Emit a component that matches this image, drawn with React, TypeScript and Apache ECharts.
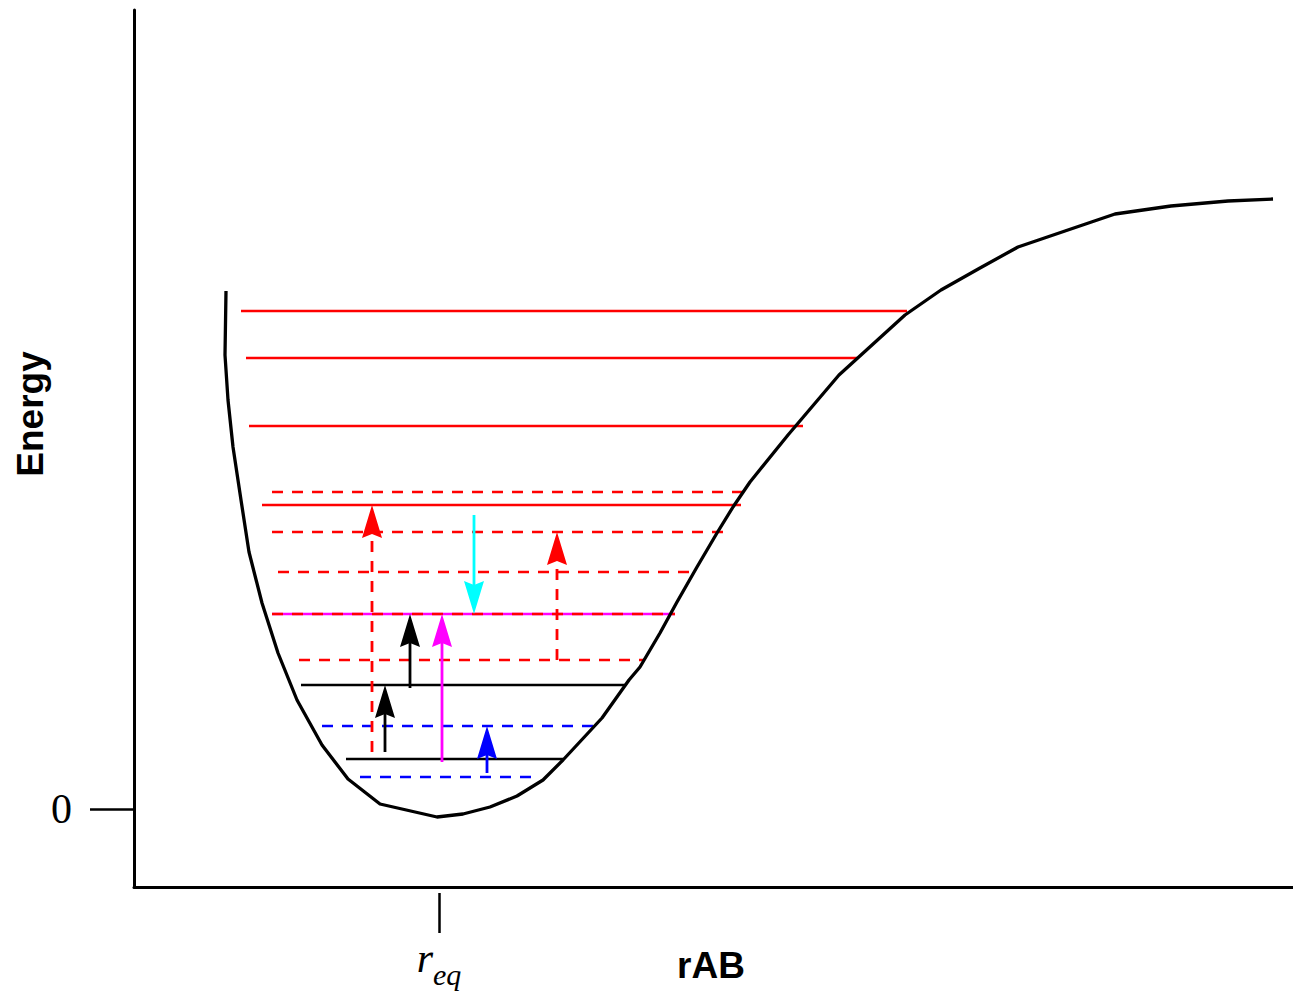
import React, { useEffect, useRef } from "react";
import * as echarts from "echarts";

// Potential-energy curve (r, E); E measured from the zero tick
const curveR = [226, 225, 228, 233, 241, 249, 262, 278, 297, 322, 348, 380, 437, 463, 490, 517, 543, 563, 602, 629, 640, 660, 677, 697, 717, 733, 750, 788, 839, 905, 941, 980, 1018, 1065, 1115, 1171, 1228, 1273];
const curveE = [518, 454, 409, 362, 309, 257, 206, 156, 109, 64, 30, 5, -8, -5, 2, 13, 29, 49, 91, 129, 142, 176, 207, 242, 276, 302, 327, 374, 434, 494, 519, 541, 562, 578, 595, 603, 608, 610];

// Vibrational levels
const levelE = [498, 451, 383, 317, 304, 277, 237, 195, 195, 149, 124, 83, 50, 32];
const levelStart = [241, 246, 249, 272, 262, 272, 278, 272, 272, 299, 301, 322, 346, 360];
const levelEnd = [907, 857, 803, 752, 741, 725, 690, 675, 675, 645, 625, 597, 563, 535];
const levelColor = ["#ff0000", "#ff0000", "#ff0000", "#ff0000", "#ff0000", "#ff0000", "#ff0000", "#ff00ff", "#ff0000", "#ff0000", "#000000", "#0000ff", "#000000", "#0000ff"];
const levelDashed = [false, false, false, true, false, true, true, false, true, true, false, true, false, true];

// Transitions (arrows)
const arrowR = [372, 474, 557, 410, 442, 385, 487];
const arrowFrom = [57, 294, 149, 121, 47, 57, 36];
const arrowTo = [304, 195, 277, 195, 195, 124, 83];
const arrowColor = ["#ff0000", "#00ffff", "#ff0000", "#000000", "#ff00ff", "#000000", "#0000ff"];
const arrowDashed = [true, false, true, false, false, false, false];

// Axis ticks
const yTickValues = [0];
const xTickValues = [439];

export default function App() {
  const ref = useRef<HTMLDivElement>(null);
  useEffect(() => {
    const chart = echarts.init(ref.current!, null, { renderer: "svg" });
    const dash = [11, 9];
    const levelSeries = levelE.map((e, i) => ({
      type: "line",
      silent: true,
      showSymbol: false,
      symbol: "none",
      data: [
        [levelStart[i], e],
        [levelEnd[i], e],
      ],
      lineStyle: {
        color: levelColor[i],
        width: 2.5,
        type: levelDashed[i] ? dash : "solid",
      },
      z: 2,
    }));

    const option: any = {
      animation: false,
      grid: { left: 134, right: 0, top: 10, bottom: 107, containLabel: false },
      xAxis: [
        {
          type: "value",
          min: 134,
          max: 1293,
          axisLine: { show: true, onZero: false, lineStyle: { color: "#000", width: 3 } },
          axisTick: { show: false },
          axisLabel: { show: false },
          splitLine: { show: false },
        },
        {
          type: "value",
          min: 134,
          max: 1293,
          position: "bottom",
          offset: 6,
          axisLine: { show: false, onZero: false },
          axisTick: {
            show: true,
            customValues: xTickValues,
            length: 40,
            lineStyle: { color: "#000", width: 2.5 },
          },
          axisLabel: {
            show: true,
            customValues: xTickValues,
            margin: 44,
            formatter: () => "{r|r}{s|eq}",
            rich: {
              r: { fontFamily: "Liberation Serif", fontStyle: "italic", fontSize: 42, color: "#000", verticalAlign: "bottom" },
              s: { fontFamily: "Liberation Serif", fontStyle: "italic", fontSize: 30, color: "#000", verticalAlign: "bottom", padding: [0, 0, -10, 0] },
            },
          },
          splitLine: { show: false },
        },
      ],
      yAxis: {
        type: "value",
        min: -78,
        max: 799,
        axisLine: { show: true, onZero: false, lineStyle: { color: "#000", width: 3 } },
        axisTick: {
          show: true,
          customValues: yTickValues,
          length: 44,
          lineStyle: { color: "#000", width: 2.5 },
        },
        axisLabel: {
          show: true,
          customValues: yTickValues,
          margin: 62,
          fontFamily: "Liberation Serif",
          fontSize: 42,
          color: "#000",
        },
        splitLine: { show: false },
      },
      graphic: [
        {
          type: "text",
          x: 30,
          y: 414,
          rotation: Math.PI / 2,
          style: {
            text: "Energy",
            fontFamily: "Liberation Sans",
            fontWeight: "bold",
            fontSize: 37,
            fill: "#000",
            textAlign: "center",
            textVerticalAlign: "middle",
          },
        },
        {
          type: "text",
          x: 711,
          y: 965,
          style: {
            text: "rAB",
            fontFamily: "Liberation Sans",
            fontWeight: "bold",
            fontSize: 37,
            fill: "#000",
            textAlign: "center",
            textVerticalAlign: "middle",
          },
        },
      ],
      series: [
        ...levelSeries,
        {
          type: "line",
          silent: true,
          showSymbol: false,
          symbol: "none",
          data: curveR.map((r, i) => [r, curveE[i]]),
          lineStyle: { color: "#000", width: 3.3, join: "round" },
          z: 3,
        },
        {
          type: "custom",
          coordinateSystem: "cartesian2d",
          silent: true,
          z: 4,
          encode: { x: 0, y: [1, 2] },
          data: arrowR.map((r, i) => [r, arrowFrom[i], arrowTo[i]]),
          renderItem: (params: any, api: any) => {
            const i = params.dataIndex;
            const x = api.value(0);
            const p0 = api.coord([x, api.value(1)]);
            const p1 = api.coord([x, api.value(2)]);
            const dir = p1[1] > p0[1] ? 1 : -1;
            const headLen = 33;
            const headW = 10;
            const color = arrowColor[i];
            return {
              type: "group",
              children: [
                {
                  type: "line",
                  shape: { x1: p0[0], y1: p0[1], x2: p1[0], y2: p1[1] - dir * headLen * 0.8 },
                  style: {
                    stroke: color,
                    lineWidth: 2.8,
                    lineDash: arrowDashed[i] ? dash : null,
                  },
                },
                {
                  type: "polygon",
                  shape: {
                    points: [
                      [p1[0], p1[1]],
                      [p1[0] - headW, p1[1] - dir * headLen],
                      [p1[0], p1[1] - dir * (headLen - 4)],
                      [p1[0] + headW, p1[1] - dir * headLen],
                    ],
                  },
                  style: { fill: color, stroke: null },
                },
              ],
            };
          },
        },
      ],
    };
    chart.setOption(option);
    return () => chart.dispose();
  }, []);
  return (
    <div
      ref={ref}
      style={{ position: "absolute", left: 0, top: 0, width: 1293, height: 994, background: "#fff" }}
    />
  );
}
